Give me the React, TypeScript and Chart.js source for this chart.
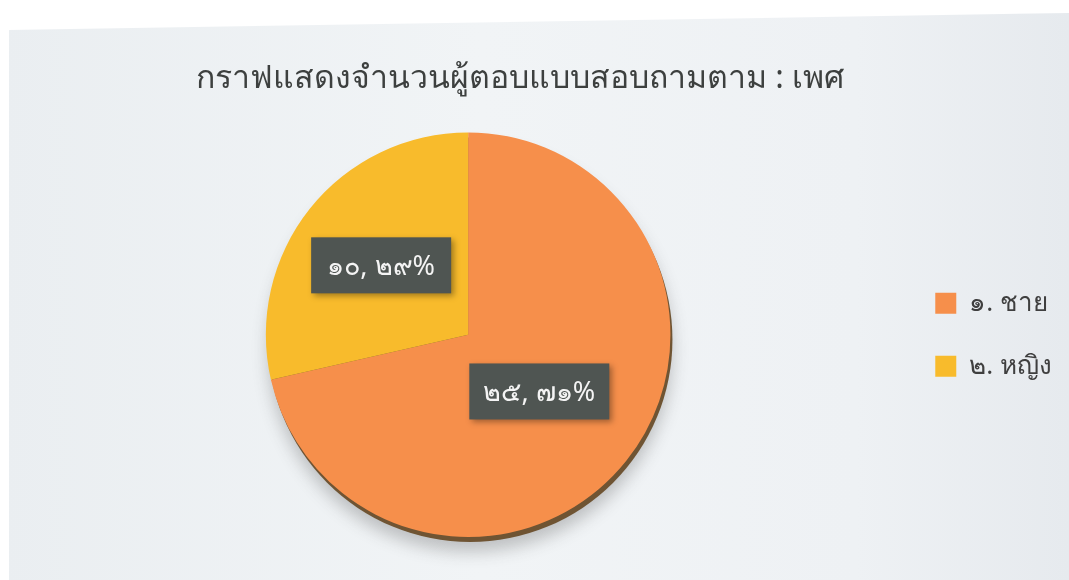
import React, { useEffect, useRef } from "react";
import { Chart, registerables } from "chart.js";

Chart.register(...registerables);

const titleText = "กราฟแสดงจำนวนผู้ตอบแบบสอบถามตาม : เพศ";
const categories = ["๑. ชาย", "๒. หญิง"];
const counts = [25, 10];
const sliceColors = ["#f68f4b", "#f8bb2c"];
const labelRadius = [0.45, 0.55];

const thaiDigits = "๐๑๒๓๔๕๖๗๘๙";
const toThai = (n: number) =>
  String(n).replace(/[0-9]/g, (d) => thaiDigits[Number(d)]);

const FONT = "'Noto Sans', 'DejaVu Sans', sans-serif";

// shift the title's centring box to the left (title sits left of the canvas centre)
const titleShift = 60;
const titleShiftPlugin = {
  id: "titleShift",
  afterLayout(chart: any) {
    const t = chart.titleBlock;
    if (t) t.right -= titleShift;
  },
};

const rimPlugin = {
  id: "rim",
  beforeDatasetsDraw(chart: any) {
    const arc = chart.getDatasetMeta(0).data[0];
    if (!arc) return;
    const { x, y, outerRadius } = arc.getProps(["x", "y", "outerRadius"], true);
    const ctx = chart.ctx;
    ctx.save();
    ctx.shadowColor = "rgba(60,60,60,0.28)";
    ctx.shadowBlur = 16;
    ctx.shadowOffsetY = 10;
    ctx.beginPath();
    ctx.arc(x + 2, y + 5, outerRadius, 0, Math.PI * 2);
    ctx.fillStyle = "#6f5433";
    ctx.fill();
    ctx.restore();
  },
};

const boxLabelPlugin = {
  id: "boxLabels",
  afterDatasetsDraw(chart: any) {
    const meta = chart.getDatasetMeta(0);
    const data = chart.data.datasets[0].data as number[];
    const total = data.reduce((a, b) => a + b, 0);
    const ctx = chart.ctx;
    meta.data.forEach((arc: any, i: number) => {
      const { x, y, startAngle, endAngle, outerRadius } = arc.getProps(
        ["x", "y", "startAngle", "endAngle", "outerRadius"],
        true
      );
      const mid = (startAngle + endAngle) / 2;
      const r = outerRadius * labelRadius[i];
      const cx = x + Math.cos(mid) * r;
      const cy = y + Math.sin(mid) * r;
      const pct = Math.round((data[i] / total) * 100);
      const text = `${toThai(data[i])}, ${toThai(pct)}%`;
      const w = 140;
      const h = 56;
      ctx.save();
      ctx.shadowColor = "rgba(0,0,0,0.35)";
      ctx.shadowBlur = 6;
      ctx.shadowOffsetX = 3;
      ctx.shadowOffsetY = 3;
      ctx.fillStyle = "#4f5552";
      ctx.fillRect(cx - w / 2, cy - h / 2, w, h);
      ctx.restore();
      ctx.save();
      ctx.fillStyle = "#f4f4f4";
      ctx.font = `27px ${FONT}`;
      ctx.textAlign = "center";
      ctx.textBaseline = "middle";
      ctx.fillText(text, cx, cy + 2);
      ctx.restore();
    });
  },
};

export default function App() {
  const ref = useRef<HTMLCanvasElement | null>(null);

  useEffect(() => {
    if (!ref.current) return;
    const chart = new Chart(ref.current, {
      type: "pie",
      data: {
        labels: categories,
        datasets: [
          {
            data: counts,
            backgroundColor: sliceColors,
            borderWidth: 0,
          },
        ],
      },
      options: {
        animation: false,
        responsive: false,
        maintainAspectRatio: false,
        layout: { padding: { left: 38, right: 7, top: 0, bottom: 43 } },
        plugins: {
          tooltip: { enabled: false },
          title: {
            display: true,
            text: titleText,
            color: "#3d403f",
            font: { family: FONT, size: 32, weight: "normal" },
            padding: { top: 60, bottom: 34 },
          },
          legend: {
            position: "right",
            fullSize: false,
            labels: {
              boxWidth: 21,
              boxHeight: 21,
              padding: 37,
              color: "#3f3f3f",
              font: { family: FONT, size: 26 },
            },
          },
        },
      },
      plugins: [titleShiftPlugin, rimPlugin, boxLabelPlugin],
    });
    return () => chart.destroy();
  }, []);

  return (
    <div
      style={{
        position: "absolute",
        left: 0,
        top: 0,
        width: 1069,
        height: 580,
        background: "#ffffff",
        overflow: "hidden",
      }}
    >
      <div
        style={{
          position: "absolute",
          left: 0,
          top: 0,
          width: 1069,
          height: 580,
          background: "linear-gradient(90deg, #eaeef1 0%, #f1f4f6 45%, #eef1f4 80%, #e6eaee 100%)",
          clipPath: "polygon(9px 30px, 1069px 13px, 1069px 580px, 9px 580px)",
        }}
      />
      <canvas
        ref={ref}
        width={1069}
        height={580}
        style={{ position: "absolute", left: 0, top: 0, width: 1069, height: 580 }}
      />
    </div>
  );
}
